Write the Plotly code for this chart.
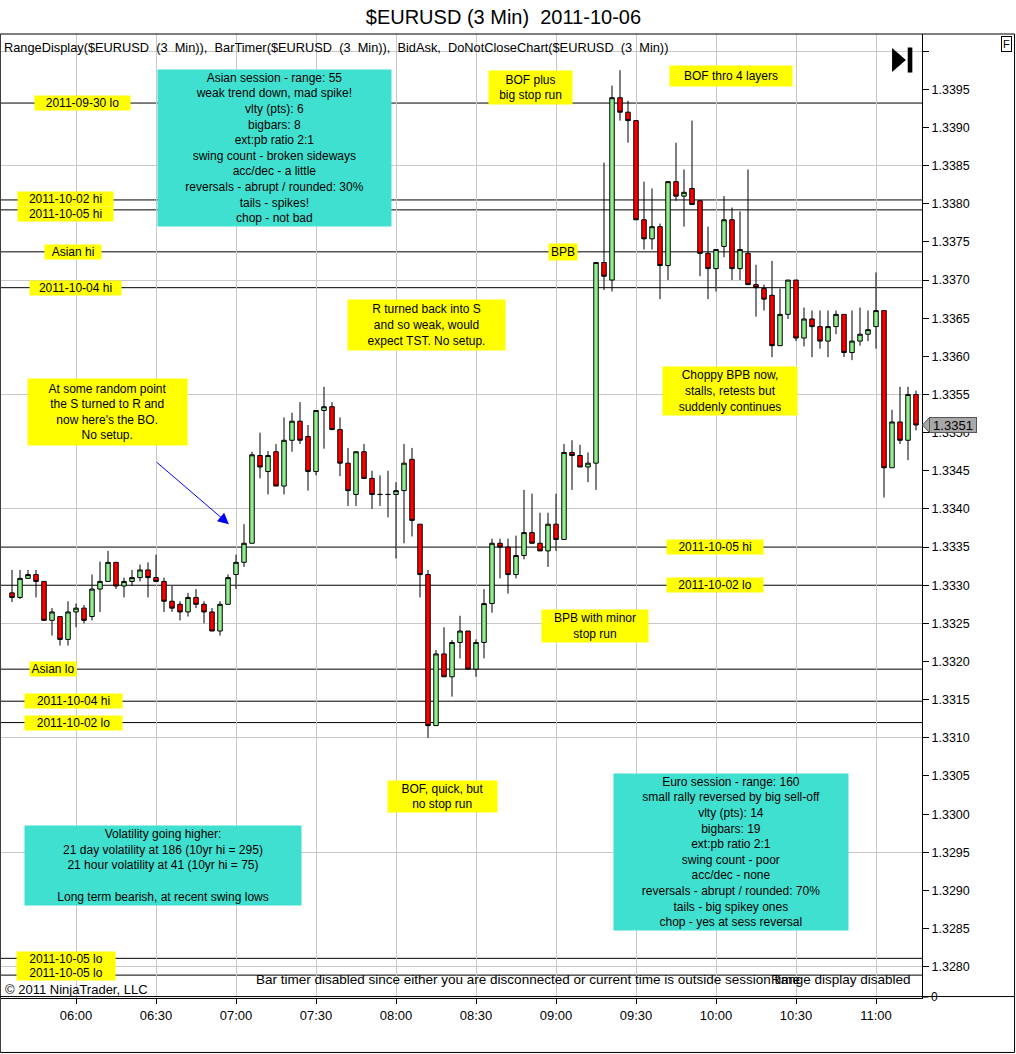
import numpy as np
import pandas as pd
import plotly.graph_objects as go

FONT = "Liberation Sans, Arial, sans-serif"

# 3 minute bars, 05:36 .. 11:15
bar_times = pd.date_range("2011-10-06 05:36", periods=114, freq="3min")

opens = [
    1.33290, 1.33284, 1.33309, 1.33314, 1.33305, 1.33254, 1.33259, 1.33229, 1.33265, 1.33270,
    1.33259, 1.33295, 1.33305, 1.33330, 1.33299, 1.33305, 1.33310, 1.33320, 1.33310, 1.33305,
    1.33279, 1.33275, 1.33265, 1.33284, 1.33275, 1.33265, 1.33240, 1.33275, 1.33314, 1.33330,
    1.33355, 1.33470, 1.33449, 1.33475, 1.33430, 1.33490, 1.33515, 1.33495, 1.33449, 1.33529,
    1.33534, 1.33504, 1.33460, 1.33419, 1.33475, 1.33440, 1.33419, 1.33419, 1.33419, 1.33424,
    1.33465, 1.33380, 1.33314, 1.33116, 1.33210, 1.33180, 1.33225, 1.33240, 1.33190, 1.33225,
    1.33276, 1.33355, 1.33350, 1.33314, 1.33339, 1.33369, 1.33355, 1.33345, 1.33380, 1.33360,
    1.33474, 1.33470, 1.33455, 1.33460, 1.33723, 1.33700, 1.33939, 1.33920, 1.33909, 1.33779,
    1.33754, 1.33770, 1.33719, 1.33829, 1.33810, 1.33820, 1.33804, 1.33735, 1.33715, 1.33744,
    1.33779, 1.33715, 1.33735, 1.33694, 1.33689, 1.33680, 1.33614, 1.33655, 1.33700, 1.33624,
    1.33649, 1.33639, 1.33620, 1.33639, 1.33655, 1.33605, 1.33620, 1.33629, 1.33639, 1.33660,
    1.33454, 1.33514, 1.33490, 1.33550,
]
highs = [
    1.33320, 1.33320, 1.33320, 1.33320, 1.33305, 1.33270, 1.33259, 1.33279, 1.33276, 1.33274,
    1.33314, 1.33331, 1.33345, 1.33330, 1.33310, 1.33320, 1.33327, 1.33330, 1.33340, 1.33310,
    1.33299, 1.33279, 1.33290, 1.33295, 1.33279, 1.33270, 1.33279, 1.33314, 1.33340, 1.33380,
    1.33475, 1.33500, 1.33476, 1.33485, 1.33520, 1.33526, 1.33540, 1.33510, 1.33529, 1.33560,
    1.33540, 1.33520, 1.33480, 1.33475, 1.33485, 1.33450, 1.33444, 1.33450, 1.33435, 1.33485,
    1.33480, 1.33380, 1.33320, 1.33215, 1.33245, 1.33228, 1.33260, 1.33240, 1.33229, 1.33295,
    1.33361, 1.33361, 1.33361, 1.33365, 1.33425, 1.33420, 1.33395, 1.33395, 1.33420, 1.33485,
    1.33490, 1.33484, 1.33474, 1.33723, 1.33854, 1.33955, 1.33975, 1.33935, 1.33909, 1.33829,
    1.33820, 1.33774, 1.33829, 1.33880, 1.33845, 1.33909, 1.33804, 1.33770, 1.33740, 1.33810,
    1.33795, 1.33790, 1.33845, 1.33720, 1.33694, 1.33725, 1.33689, 1.33700, 1.33700, 1.33664,
    1.33660, 1.33660, 1.33660, 1.33660, 1.33655, 1.33660, 1.33664, 1.33660, 1.33710, 1.33660,
    1.33530, 1.33560, 1.33560, 1.33555,
]
lows = [
    1.33278, 1.33282, 1.33309, 1.33284, 1.33254, 1.33234, 1.33221, 1.33221, 1.33245, 1.33250,
    1.33254, 1.33265, 1.33305, 1.33295, 1.33284, 1.33299, 1.33305, 1.33284, 1.33305, 1.33265,
    1.33265, 1.33254, 1.33259, 1.33270, 1.33250, 1.33240, 1.33234, 1.33275, 1.33295, 1.33324,
    1.33355, 1.33440, 1.33419, 1.33430, 1.33419, 1.33475, 1.33485, 1.33424, 1.33444, 1.33479,
    1.33504, 1.33443, 1.33404, 1.33404, 1.33440, 1.33400, 1.33404, 1.33389, 1.33335, 1.33355,
    1.33364, 1.33284, 1.33100, 1.33116, 1.33180, 1.33154, 1.33204, 1.33190, 1.33180, 1.33204,
    1.33264, 1.33309, 1.33289, 1.33309, 1.33334, 1.33355, 1.33345, 1.33324, 1.33345, 1.33360,
    1.33425, 1.33455, 1.33435, 1.33425, 1.33687, 1.33685, 1.33909, 1.33880, 1.33779, 1.33740,
    1.33740, 1.33675, 1.33700, 1.33804, 1.33770, 1.33799, 1.33705, 1.33675, 1.33685, 1.33730,
    1.33700, 1.33700, 1.33694, 1.33652, 1.33660, 1.33599, 1.33614, 1.33649, 1.33620, 1.33613,
    1.33599, 1.33610, 1.33599, 1.33629, 1.33599, 1.33595, 1.33614, 1.33620, 1.33610, 1.33415,
    1.33454, 1.33485, 1.33464, 1.33503,
]
closes = [
    1.33284, 1.33309, 1.33314, 1.33305, 1.33254, 1.33265, 1.33229, 1.33265, 1.33270, 1.33254,
    1.33295, 1.33305, 1.33330, 1.33299, 1.33305, 1.33310, 1.33320, 1.33310, 1.33305, 1.33279,
    1.33270, 1.33265, 1.33284, 1.33275, 1.33265, 1.33240, 1.33275, 1.33310, 1.33330, 1.33355,
    1.33471, 1.33455, 1.33470, 1.33430, 1.33490, 1.33515, 1.33490, 1.33449, 1.33529, 1.33534,
    1.33504, 1.33460, 1.33424, 1.33475, 1.33440, 1.33419, 1.33419, 1.33419, 1.33424, 1.33460,
    1.33385, 1.33314, 1.33116, 1.33210, 1.33180, 1.33225, 1.33240, 1.33190, 1.33225, 1.33276,
    1.33355, 1.33350, 1.33314, 1.33339, 1.33369, 1.33355, 1.33345, 1.33380, 1.33360, 1.33474,
    1.33470, 1.33455, 1.33460, 1.33723, 1.33705, 1.33939, 1.33920, 1.33909, 1.33779, 1.33754,
    1.33770, 1.33719, 1.33829, 1.33810, 1.33815, 1.33799, 1.33735, 1.33715, 1.33740, 1.33779,
    1.33715, 1.33740, 1.33694, 1.33690, 1.33675, 1.33614, 1.33655, 1.33700, 1.33624, 1.33649,
    1.33639, 1.33620, 1.33639, 1.33655, 1.33605, 1.33620, 1.33629, 1.33635, 1.33660, 1.33454,
    1.33514, 1.33490, 1.33550, 1.33510,
]

# horizontal reference levels: label, price, time where the label sits
level_names = ["2011-09-30 lo", "2011-10-02 hi", "2011-10-05 hi", "Asian hi", "2011-10-04 hi",
               "2011-10-05 hi", "2011-10-02 lo", "Asian lo", "2011-10-04 hi", "2011-10-02 lo",
               "2011-10-05 lo", "2011-10-05 lo"]
level_prices = [1.33932, 1.33805, 1.33792, 1.33737, 1.33690,
                1.33350, 1.33300, 1.33190, 1.33148, 1.33120,
                1.32811, 1.32789]
level_label_times = ["06:02:15", "05:56:00", "05:56:00", "05:59:00", "05:59:45",
                     "09:59:40", "09:59:40", "05:51:20", "05:59:00", "05:59:00",
                     "05:56:15", "05:56:15"]
level_label_widths = [95, 95, 95, 56, 91, 96, 96, 46, 97, 97, 98, 98]
level_label_shift = [0, 1, -4.5, 0, 0, 0, 0, 0, 0, 0, -0.5, 2]

# chart notes
note_texts = [
    "Asian session - range: 55<br>weak trend down, mad spike!<br>vlty (pts): 6<br>bigbars: 8<br>"
    "ext:pb ratio 2:1<br>swing count - broken sideways<br>acc/dec - a little<br>"
    "reversals - abrupt / rounded: 30%<br>tails - spikes!<br>chop - not bad",
    "R turned back into S<br>and so weak, would<br>expect TST. No setup.",
    "At some random point<br>the S turned to R and<br>now here's the BO.<br>No setup.",
    "Choppy BPB now,<br>stalls, retests but<br>suddenly continues",
    "BPB with minor<br>stop run",
    "BOF, quick, but<br>no stop run",
    "Volatility going higher:<br>21 day volatility at 186 (10yr hi = 295)<br>"
    "21 hour volatility at 41 (10yr hi = 75)<br> <br>Long term bearish, at recent swing lows",
    "Euro session - range: 160<br>small rally reversed by big sell-off<br>vlty (pts): 14<br>bigbars: 19<br>"
    "ext:pb ratio 2:1<br>swing count - poor<br>acc/dec - none<br>reversals - abrupt / rounded: 70%<br>"
    "tails - big spikey ones<br>chop - yes at sess reversal",
    "BOF plus<br>big stop run",
    "BOF thro 4 layers",
    "BPB",
]
note_times = ["07:14:25", "08:11:25", "06:11:50", "10:05:15", "09:14:40", "08:17:25",
              "06:32:40", "10:05:40", "08:50:25", "10:05:40", "09:02:40"]
note_prices = [1.33873, 1.33641, 1.33527, 1.33555, 1.33247, 1.33023,
               1.32933, 1.32950, 1.33952, 1.33967, 1.33737]
note_colors = ["#40e0d0", "#ffff00", "#ffff00", "#ffff00", "#ffff00", "#ffff00",
               "#40e0d0", "#40e0d0", "#ffff00", "#ffff00", "#ffff00"]
note_sizes = [(233, 156), (157, 50), (159, 66), (134, 48), (106, 32), (109, 31),
              (276, 79), (234, 156), (83, 33), (122, 20), (28, 16)]

last_price = closes[-1]
y_range = [1.32759, 1.340225]
day = "2011-10-06 "

fig = go.Figure()

fig.add_trace(go.Candlestick(
    x=bar_times, open=opens, high=highs, low=lows, close=closes,
    increasing=dict(fillcolor="#90ee90", line=dict(color="black", width=1)),
    decreasing=dict(fillcolor="#ff0000", line=dict(color="black", width=1)),
    whiskerwidth=0, hoverinfo="skip", showlegend=False,
))
# empty trace so the labelled price axis exists
fig.add_trace(go.Scatter(x=[], y=[], yaxis="y2", showlegend=False, hoverinfo="skip"))

for p in level_prices:
    fig.add_hline(y=p, line_color="black", line_width=1, layer="below")

for name, p, t, w, s in zip(level_names, level_prices, level_label_times,
                            level_label_widths, level_label_shift):
    fig.add_annotation(x=day + t, y=p, text=name, showarrow=False, bgcolor="#ffff00",
                       width=w, height=14, borderpad=0, yshift=s,
                       font=dict(size=12, color="black"))

for txt, t, p, c, (w, h) in zip(note_texts, note_times, note_prices, note_colors, note_sizes):
    fig.add_annotation(x=day + t, y=p, text=txt, showarrow=False, bgcolor=c, align="center",
                       width=w, height=h, borderpad=0, font=dict(size=12, color="black"))

# blue arrow pointing at the breakout
fig.add_annotation(x=day + "06:57:20", y=1.33380, ax=day + "06:29:40", ay=1.33463,
                   axref="x", ayref="y", text="", showarrow=True, arrowhead=2,
                   arrowsize=2.2, arrowwidth=1, arrowcolor="#0000ff")

# indicator line, footer texts
fig.add_annotation(xref="paper", yref="paper", x=0.0015, y=0.9865, xanchor="left", yanchor="middle",
                   text="RangeDisplay($EURUSD  (3  Min)),  BarTimer($EURUSD  (3  Min)),  BidAsk,  DoNotCloseChart($EURUSD  (3  Min))".replace("  ", "\u00a0 "),
                   showarrow=False, font=dict(size=12.8, color="black"))
fig.add_annotation(xref="paper", yref="paper", x=0.2748, y=0.0197, xanchor="left", yanchor="middle",
                   text="Bar timer disabled since either you are disconnected or current time is outside session time",
                   showarrow=False, font=dict(size=13.5, color="black"))
fig.add_annotation(xref="paper", yref="paper", x=0.9905, y=0.0197, xanchor="right", yanchor="middle",
                   text="Range display disabled", showarrow=False, font=dict(size=13.5, color="black"))
fig.add_annotation(xref="paper", yref="paper", x=0.002, y=0.0083, xanchor="left", yanchor="middle",
                   text="© 2011 NinjaTrader, LLC", showarrow=False, font=dict(size=13, color="black"))

# last price marker: pointed tip plus a grey label box that covers the axis label
fig.add_shape(type="path", xref="paper", yref="y", fillcolor="#a8a8a8", line=dict(color="#555555", width=1),
              path=f"M 1.0005,{last_price} L 1.0082,{last_price + 0.0001} "
                   f"L 1.0082,{last_price - 0.0001} Z")
fig.add_annotation(xref="paper", yref="y", x=1.0075, y=last_price, xanchor="left", yanchor="middle",
                   text=f"{last_price:.4f}", showarrow=False, bgcolor="#a8a8a8",
                   bordercolor="#555555", borderwidth=1, width=46, height=14, borderpad=0,
                   font=dict(size=13, color="black"))

# the "0" of the lower panel scale
fig.add_shape(type="line", xref="paper", yref="paper", x0=1.0, x1=1.007, y0=0.001, y1=0.001,
              line=dict(color="black", width=1))
fig.add_annotation(xref="paper", yref="paper", x=1.008, y=0.001, xanchor="left", yanchor="middle",
                   text="0", showarrow=False, font=dict(size=12, color="black"))

# window frame and separator
fig.add_shape(type="rect", xref="paper", yref="paper", x0=-0.0008, x1=1.1005, y0=-0.0565, y1=1.0,
              line=dict(color="black", width=1))
fig.add_shape(type="line", xref="paper", yref="paper", x0=-0.001, x1=1.1005, y0=0.0015, y1=0.0015,
              line=dict(color="black", width=1))

# go-to-end button and F box
fig.add_shape(type="path", xref="paper", yref="paper", fillcolor="black", line=dict(width=0),
              path="M 0.9675,0.9855 L 0.9825,0.9730 L 0.9675,0.9605 Z")
fig.add_shape(type="rect", xref="paper", yref="paper", x0=0.9845, x1=0.9895, y0=0.9600, y1=0.9860,
              fillcolor="black", line=dict(width=0))
fig.add_annotation(xref="paper", yref="paper", x=1.0918, y=0.9896, xanchor="center", yanchor="middle",
                   text="F", showarrow=False, bordercolor="black", borderwidth=1, borderpad=1,
                   font=dict(size=11, color="black"))

price_ticks = np.round(np.arange(1.3280, 1.34001, 0.0005), 4)
price_text = [f"{v:.4f}" if v < 1.33999 else "" for v in price_ticks]

fig.update_layout(
    width=1016, height=1054,
    margin=dict(l=1, r=94, t=34, b=56),
    paper_bgcolor="white", plot_bgcolor="white",
    font=dict(family=FONT, size=12, color="black"),
    title=dict(text="$EURUSD (3 Min)\u00a0 2011-10-06", x=0.4955, xanchor="center",
               y=0.984, yanchor="middle", font=dict(size=20, color="black")),
    showlegend=False,
    boxgap=0.2,
    xaxis=dict(
        type="date", range=["2011-10-06 05:31:52", "2011-10-06 11:17:15"],
        rangeslider=dict(visible=False),
        tickformat="%H:%M", dtick=1800000, tick0="2011-10-06 06:00",
        ticks="outside", ticklen=5, tickcolor="black",
        showgrid=True, gridcolor="#c8c8c8", gridwidth=1,
        showline=True, linecolor="black", linewidth=1, zeroline=False,
        tickfont=dict(size=13),
    ),
    yaxis=dict(
        range=y_range, dtick=0.0015, tick0=1.3280,
        showgrid=True, gridcolor="#c8c8c8", gridwidth=1,
        showticklabels=False, ticks="", zeroline=False, showline=False,
    ),
    yaxis2=dict(
        overlaying="y", side="right", range=y_range,
        tickvals=price_ticks, ticktext=price_text,
        ticks="outside", ticklen=6, tickcolor="black",
        showgrid=False, zeroline=False,
        showline=True, linecolor="black", linewidth=1,
        tickfont=dict(size=12.5),
    ),
)

fig.write_html("out.html", config={"displayModeBar": False},
               post_script="document.body.style.margin='0';")
